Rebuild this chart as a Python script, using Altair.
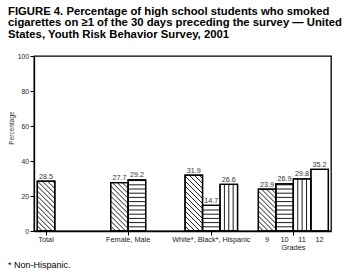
import altair as alt
import pandas as pd
import numpy as np

# ---------------- data ----------------
categories = ["Total", "Female", "Male", "White", "Black", "Hispanic", "9", "10", "11", "12"]
values = [28.5, 27.7, 29.2, 31.9, 14.7, 26.6, 23.9, 26.9, 29.8, 35.2]
groups = [0, 1, 1, 2, 2, 2, 3, 3, 3, 3]
patterns = ["diag", "diag", "horiz", "diag", "horiz", "vert", "diag", "horiz", "vert", "none"]
group_labels = ["Total", "Female, Male", "White*, Black*, Hispanic", None]
grade_caption = "Grades"
y_ticks = [0, 20, 40, 60, 80, 100]
title_lines = [
    "FIGURE 4. Percentage of high school students who smoked",
    "cigarettes on \u22651 of the 30 days preceding the survey \u2014 United",
    "States, Youth Risk Behavior Survey, 2001",
]
footnote = "* Non-Hispanic."
y_title = "Percentage"

# ---------------- layout ----------------
W_PX, H_PX = 297, 175
GROUP_START = [0.19, 4.38, 8.63, 12.82]   # in bar-width units
X_MAX = 16.97
Y_MAX = 100
FONT = "Liberation Sans"

px_x = W_PX / X_MAX
px_y = H_PX / Y_MAX

# bar table
idx_in_group = []
counts = {}
for g in groups:
    idx_in_group.append(counts.get(g, 0))
    counts[g] = counts.get(g, 0) + 1
left = [GROUP_START[g] + i for g, i in zip(groups, idx_in_group)]
bars = pd.DataFrame({
    "cat": categories, "val": values, "grp": groups, "pat": patterns,
    "x0": left, "x1": [l + 1 for l in left], "xc": [l + 0.5 for l in left],
    "lab": [f"{v:.1f}" for v in values],
})

# hatch segments derived from the bars
segs = []
slope = px_x / px_y                 # % per unit for a 45 degree line
diag_step = 5.0 / px_y
horiz_step = 4.2 / px_y
for _, b in bars.iterrows():
    v, x0 = b["val"], b["x0"]
    if b["pat"] == "diag":
        c = diag_step
        while c < v + slope:
            xlo = max(0.0, (c - v) / slope)
            xhi = min(1.0, c / slope)
            if xhi - xlo > 1e-6:
                segs.append((x0 + xlo, c - slope * xlo, x0 + xhi, c - slope * xhi))
            c += diag_step
    elif b["pat"] == "horiz":
        y = horiz_step
        while y < v - 0.3:
            segs.append((x0, y, x0 + 1, y))
            y += horiz_step
    elif b["pat"] == "vert":
        for f in (0.25, 0.5, 0.75):
            segs.append((x0 + f, 0, x0 + f, v))
hatch = pd.DataFrame(segs, columns=["a", "b", "c", "d"])

# axis label tables
centers = []
for g in range(len(GROUP_START)):
    n = counts[g]
    centers.append(GROUP_START[g] + n / 2)
row0 = [{"xp": centers[g], "t": group_labels[g]} for g in range(3)]
row0 += [{"xp": xc, "t": c} for xc, c, g in zip(bars["xc"], categories, groups) if g == 3]
row0 = pd.DataFrame(row0)
row1 = pd.DataFrame([{"xp": centers[3], "t": grade_caption}])

xscale = alt.Scale(domain=[0, X_MAX], nice=False, zero=False)
yscale = alt.Scale(domain=[0, Y_MAX], nice=False)
x_axis = alt.Axis(values=centers, labels=False, tickSize=4, domainWidth=1.3, tickWidth=1,
                  tickColor="black", domainColor="black", grid=False, title=None)
y_axis = alt.Axis(values=y_ticks, tickSize=4, labelFontSize=6.8, labelPadding=1.5,
                  labelColor="#222", labelFont=FONT, domainWidth=1.3, tickWidth=1,
                  tickColor="black", domainColor="black", grid=False, title=None)


def X(f):
    return alt.X(f, scale=xscale, axis=x_axis, title=None)


def Y(f):
    return alt.Y(f, scale=yscale, axis=y_axis, title=None)


base = alt.Chart(bars)

fill_layer = base.mark_rect(fill="white", stroke="black", strokeWidth=1.3).encode(
    x=X("x0:Q"), x2="x1:Q", y=Y("val:Q"), y2=alt.datum(0),
)

hatch_layer = alt.Chart(hatch).mark_rule(color="black", strokeWidth=0.9).encode(
    x=X("a:Q"), x2="c:Q", y=Y("b:Q"), y2="d:Q",
)

outline_layer = base.mark_rect(fillOpacity=0, stroke="black", strokeWidth=1.3).encode(
    x=X("x0:Q"), x2="x1:Q", y=Y("val:Q"), y2=alt.datum(0),
)

value_labels = base.mark_text(font=FONT, fontSize=7.2, color="#333", baseline="alphabetic", dy=-2.5).encode(
    x=X("xc:Q"), y=Y("val:Q"), text="lab:N",
)

xlab0 = alt.Chart(row0).mark_text(font=FONT, fontSize=7.3, color="#222", baseline="middle").encode(
    x=X("xp:Q"), y=alt.value(184), text="t:N")
xlab1 = alt.Chart(row1).mark_text(font=FONT, fontSize=7.3, color="#222", baseline="middle").encode(
    x=X("xp:Q"), y=alt.value(192), text="t:N")

title_layer = alt.Chart(pd.DataFrame({"t": ["\n".join(title_lines)]})).mark_text(
    font=FONT, fontSize=11.3, fontWeight="bold", align="left", baseline="alphabetic",
    lineBreak="\n", lineHeight=11.5, color="black",
).encode(x=alt.value(-26), y=alt.value(-41.5), text="t:N")

foot_layer = alt.Chart(pd.DataFrame({"t": [footnote]})).mark_text(
    font=FONT, fontSize=9, align="left", baseline="middle", color="black",
).encode(x=alt.value(-26), y=alt.value(209), text="t:N")

ytitle_layer = alt.Chart(pd.DataFrame({"t": [y_title]})).mark_text(
    font=FONT, fontSize=6.5, align="center", baseline="middle", angle=270, color="#333",
).encode(x=alt.value(-22), y=alt.value(72), text="t:N")

chart = alt.layer(
    fill_layer, hatch_layer, outline_layer, value_labels, xlab0, xlab1,
    title_layer, foot_layer, ytitle_layer,
).properties(
    width=W_PX, height=H_PX,
    autosize=alt.AutoSizeParams(type="none"),
    padding={"left": 34, "top": 56, "right": 15, "bottom": 44},
    background="white",
).configure_view(stroke="black", strokeWidth=1.3)

chart.save("out.html", embed_options={"renderer": "svg", "actions": False})
